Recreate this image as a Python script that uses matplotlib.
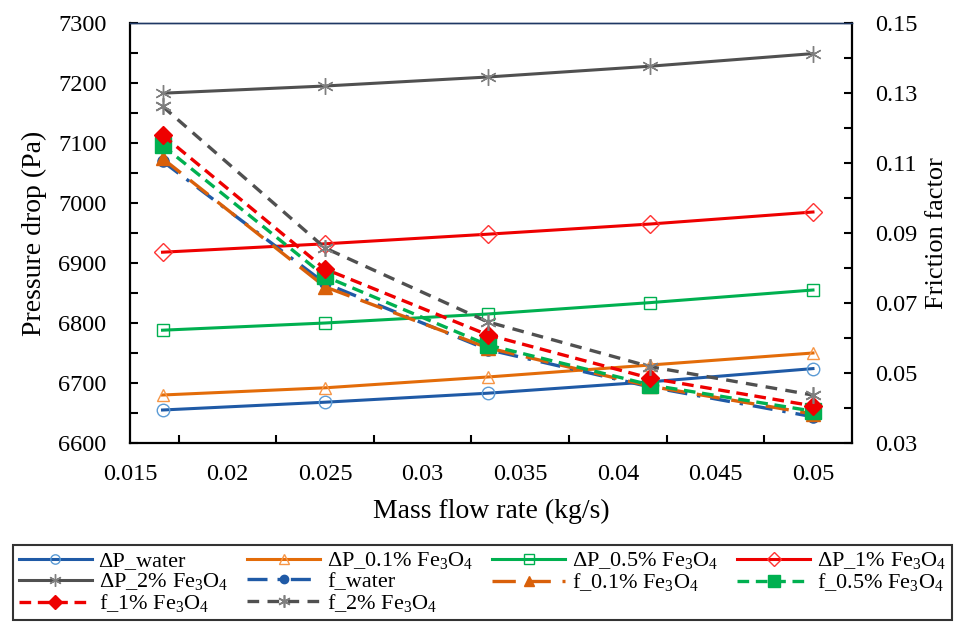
import numpy as np
import matplotlib
matplotlib.use("Agg")
import matplotlib.pyplot as plt
from matplotlib.ticker import MultipleLocator

plt.rcParams['font.family'] = ['Liberation Serif', 'DejaVu Serif']
plt.rcParams['mathtext.fontset'] = 'custom'
plt.rcParams['mathtext.rm'] = 'Liberation Serif'
plt.rcParams['mathtext.it'] = 'Liberation Serif:italic'

# Data
mass_flow = [1 / 60, 0.025, 1 / 30, 1 / 24, 0.05]

dp_water = [6655, 6668, 6683, 6702, 6724]
dp_01 = [6680, 6692, 6710, 6730, 6750]
dp_05 = [6788, 6800, 6815, 6834, 6855]
dp_1 = [6918, 6932, 6948, 6965, 6985]
dp_2 = [7183, 7195, 7210, 7228, 7249]

f_water = [0.1105, 0.0756, 0.0567, 0.0460, 0.0375]
f_01 = [0.1113, 0.0746, 0.0572, 0.0462, 0.0383]
f_05 = [0.1150, 0.0776, 0.0580, 0.0466, 0.0391]
f_1 = [0.1180, 0.0797, 0.0609, 0.0485, 0.0406]
f_2 = [0.1262, 0.0857, 0.0646, 0.0518, 0.0437]

fe = r'Fe$_3$O$_4$'
dp_labels = ['ΔP_water', 'ΔP_0.1% ' + fe, 'ΔP_0.5% ' + fe, 'ΔP_1% ' + fe, 'ΔP_2% ' + fe]
f_labels = ['f_water', 'f_0.1% ' + fe, 'f_0.5% ' + fe, 'f_1% ' + fe, 'f_2% ' + fe]

line_colors = ['#1F5AA6', '#E36C09', '#00B050', '#EE0000', '#505050']
hollow_colors = ['#5B9BD5', '#F79646', '#00B050', '#FF3333', '#7F7F7F']
f_colors = ['#1F5AA6', '#D9600A', '#00B050', '#EE0000', '#505050']
dp_markers = ['o', '^', 's', 'D', (6, 2, 0)]
f_markers = ['o', '^', 's', 'D', (6, 2, 0)]
f_styles = [(0, (6, 3, 1, 3)), (0, (7, 3.5)), (0, (3.5, 2)), (0, (3.5, 2)), (0, (3.5, 2.5))]
f_sizes = [8, 10, 11, 9, 12]

fig = plt.figure(figsize=(9.55, 6.22), dpi=100)
ax = fig.add_axes([130 / 955, 1 - 443 / 622, (852 - 130) / 955, (443 - 23) / 622])
ax2 = ax.twinx()

handles = []
dp_sets = [dp_water, dp_01, dp_05, dp_1, dp_2]
for i, vals in enumerate(dp_sets):
    h, = ax.plot(mass_flow, vals, color=line_colors[i], lw=2.2, marker=dp_markers[i],
                 ms=9 if i != 4 else 12, mfc='none' if i != 4 else hollow_colors[i],
                 mec=hollow_colors[i], mew=1.0, label=dp_labels[i], zorder=3)
    handles.append(h)

f_sets = [f_water, f_01, f_05, f_1, f_2]
for i, vals in enumerate(f_sets):
    h, = ax2.plot(mass_flow, vals, color=f_colors[i], lw=2.4, linestyle=f_styles[i],
                  marker=f_markers[i], ms=f_sizes[i], mfc=f_colors[i], mec=f_colors[i],
                  mew=1.0 if i != 4 else 1.2, label=f_labels[i], zorder=3)
    if i == 4:
        h.set_markerfacecolor('#7F7F7F')
        h.set_markeredgecolor('#7F7F7F')
    handles.append(h)

ax.set_xlim(0.015, 0.052)
ax.set_ylim(6600, 7300)
ax2.set_ylim(0.03, 0.15)

ax.xaxis.set_minor_locator(MultipleLocator(0.0025))
ax.set_xticks([0.015, 0.02, 0.025, 0.03, 0.035, 0.04, 0.045, 0.05])
ax.set_xticklabels(['0.015', '0.02', '0.025', '0.03', '0.035', '0.04', '0.045', '0.05'])
ax.yaxis.set_major_locator(MultipleLocator(100))
ax.yaxis.set_minor_locator(MultipleLocator(50))
ax2.set_yticks([0.03, 0.05, 0.07, 0.09, 0.11, 0.13, 0.15])
ax2.set_yticklabels(['0.03', '0.05', '0.07', '0.09', '0.11', '0.13', '0.15'])
ax2.yaxis.set_minor_locator(MultipleLocator(0.01))

ax.tick_params(axis='x', which='major', direction='in', length=0, labelsize=17.5, pad=15, width=1.5)
ax.tick_params(axis='x', which='minor', direction='in', length=6, width=1.5)
ax.tick_params(axis='y', which='both', direction='in', length=6, width=1.5, labelsize=17.5, pad=17)
ax2.tick_params(axis='y', which='both', direction='in', length=6, width=1.5, labelsize=17.5, pad=17)

for side in ['left', 'bottom']:
    ax.spines[side].set_linewidth(1.6)
ax2.spines['right'].set_linewidth(1.6)
ax2.spines['left'].set_visible(False)
ax2.spines['bottom'].set_visible(False)
ax.spines['top'].set_color('#1F3864')
ax.spines['top'].set_linewidth(1.0)
ax2.spines['top'].set_color('#1F3864')
ax2.spines['top'].set_linewidth(1.0)
ax.spines['right'].set_visible(False)

ax.set_xlabel('Mass flow rate (kg/s)', fontsize=20, labelpad=10)
ax.set_ylabel('Pressure drop (Pa)', fontsize=20, labelpad=8)
ax2.set_ylabel('Friction factor', fontsize=19, labelpad=6)

order = [0, 4, 8, 1, 5, 9, 2, 6, 3, 7]
leg = fig.legend([handles[k] for k in order], [handles[k].get_label() for k in order],
                 ncol=4, loc='lower left', bbox_to_anchor=(13 / 955, 2 / 622, 939 / 955, 86 / 622),
                 mode='expand', fontsize=16, frameon=True, fancybox=False, edgecolor='black',
                 handlelength=3.3, handletextpad=0.3, columnspacing=0.6, labelspacing=0.0,
                 borderpad=0.25, borderaxespad=0, markerscale=0.75)
leg.get_frame().set_linewidth(1.5)

fig.savefig('out.png', dpi=100)
